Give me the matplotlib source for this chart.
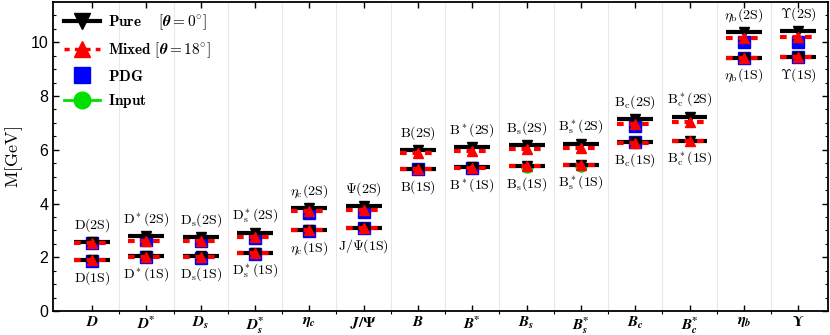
import numpy as np
import matplotlib
matplotlib.use("Agg")
import matplotlib.pyplot as plt
from matplotlib.lines import Line2D

plt.rcParams['mathtext.fontset'] = 'cm'
plt.rcParams['font.family'] = ['Liberation Sans', 'DejaVu Sans']

nan = np.nan
B = r"\boldsymbol"
categories = [r"$\boldsymbol{D}$", r"$\boldsymbol{D}^{\boldsymbol{*}}$", r"$\boldsymbol{D}_{\boldsymbol{s}}$",
              r"$\boldsymbol{D}_{\boldsymbol{s}}^{\boldsymbol{*}}$",
              r"$\boldsymbol{\eta}_{\boldsymbol{c}}$", r"$\boldsymbol{J/\Psi}$", r"$\boldsymbol{B}$",
              r"$\boldsymbol{B}^{\boldsymbol{*}}$",
              r"$\boldsymbol{B}_{\boldsymbol{s}}$", r"$\boldsymbol{B}_{\boldsymbol{s}}^{\boldsymbol{*}}$",
              r"$\boldsymbol{B}_{\boldsymbol{c}}$", r"$\boldsymbol{B}_{\boldsymbol{c}}^{\boldsymbol{*}}$",
              r"$\boldsymbol{\eta}_{\boldsymbol{b}}$", r"$\boldsymbol{\Upsilon}$"]
labels_2S = [r"$\mathrm{D(2S)}$", r"$\mathrm{D^*(2S)}$", r"$\mathrm{D_s(2S)}$", r"$\mathrm{D_s^*(2S)}$",
             r"$\eta_\mathrm{c}\mathrm{(2S)}$", r"$\mathrm{\Psi(2S)}$", r"$\mathrm{B(2S)}$", r"$\mathrm{B^*(2S)}$",
             r"$\mathrm{B_s(2S)}$", r"$\mathrm{B_s^*(2S)}$", r"$\mathrm{B_c(2S)}$", r"$\mathrm{B_c^*(2S)}$",
             r"$\eta_\mathrm{b}\mathrm{(2S)}$", r"$\mathrm{\Upsilon(2S)}$"]
labels_1S = [r"$\mathrm{D(1S)}$", r"$\mathrm{D^*(1S)}$", r"$\mathrm{D_s(1S)}$", r"$\mathrm{D_s^*(1S)}$",
             r"$\eta_\mathrm{c}\mathrm{(1S)}$", r"$\mathrm{J/\Psi(1S)}$", r"$\mathrm{B(1S)}$", r"$\mathrm{B^*(1S)}$",
             r"$\mathrm{B_s(1S)}$", r"$\mathrm{B_s^*(1S)}$", r"$\mathrm{B_c(1S)}$", r"$\mathrm{B_c^*(1S)}$",
             r"$\eta_\mathrm{b}\mathrm{(1S)}$", r"$\mathrm{\Upsilon(1S)}$"]

pure_1S = [1.90, 2.03, 2.03, 2.15, 3.02, 3.09, 5.28, 5.35, 5.40, 5.43, 6.28, 6.32, 9.43, 9.45]
pure_2S = [2.56, 2.79, 2.75, 2.90, 3.84, 3.90, 5.99, 6.10, 6.17, 6.21, 7.14, 7.21, 10.37, 10.41]
mixed_1S = [1.89, 2.02, 2.02, 2.14, 3.01, 3.08, 5.27, 5.34, 5.39, 5.42, 6.27, 6.31, 9.42, 9.44]
mixed_2S = [2.53, 2.62, 2.62, 2.74, 3.72, 3.77, 5.87, 5.95, 6.02, 6.06, 6.97, 7.02, 10.15, 10.18]
pdg_1S = [1.867, 2.009, 1.968, 2.112, 2.984, 3.097, 5.279, 5.325, nan, nan, 6.274, nan, 9.399, 9.460]
pdg_2S = [2.549, 2.627, 2.591, 2.714, 3.638, 3.686, nan, nan, nan, nan, 6.871, nan, 9.999, 10.023]
input_1S = [nan, nan, nan, nan, nan, nan, nan, nan, 5.367, 5.415, nan, nan, nan, nan]

fig = plt.figure(figsize=(8.3, 3.35), dpi=100)
ax = fig.add_axes([53/830, 24/335, 775/830, 309/335])

x = np.arange(1, len(categories) + 1)
hw = 0.33
for i, xi in enumerate(x):
    for (p, m, d, inp) in [(pure_1S[i], mixed_1S[i], pdg_1S[i], input_1S[i]),
                           (pure_2S[i], mixed_2S[i], pdg_2S[i], nan)]:
        if not np.isnan(d):
            ax.plot([xi], [d], ls='none', marker='s', ms=8, color='#0000ff', zorder=2)
        if not np.isnan(inp):
            ax.plot([xi], [inp], ls='none', marker='o', ms=8, color='#00e000', zorder=2)
        ax.plot([xi - hw, xi + hw], [p, p], color='black', lw=3, solid_capstyle='butt', zorder=3)
        ax.plot([xi], [p], marker='v', ms=7, color='black', zorder=3)
        ax.plot([xi - hw, xi + hw], [m, m], color='red', lw=3, ls=(0, (1.6, 1.4)),
                dash_capstyle='butt', zorder=4)
        ax.plot([xi], [m], marker='^', ms=7, color='red', zorder=4)
    ax.text(xi, pure_2S[i] + 0.3, labels_2S[i], ha='center', va='bottom', fontsize=10)
    ax.text(xi, min(pure_1S[i], mixed_1S[i]) - 0.32, labels_1S[i], ha='center', va='top', fontsize=10)

ax.set_xlim(0.28, 14.55)
ax.set_ylim(0, 11.5)
ax.set_xticks(x)
ax.set_xticklabels(categories, fontsize=11, math_fontfamily='stix')
ax.set_xticks(np.arange(1.5, 14.5, 1), minor=True)
ax.grid(axis='x', which='minor', color='#e8e8e8', lw=0.8)
ax.set_yticks(np.arange(0, 11, 2))
ax.set_yticks(np.arange(0, 11.5, 0.5), minor=True)
ax.tick_params(axis='y', which='both', direction='in', right=True, labelsize=11.5)
ax.tick_params(axis='x', which='major', direction='in', top=True, pad=3)
ax.tick_params(axis='x', which='minor', length=0)
ax.tick_params(which='major', length=4, width=1)
ax.tick_params(which='minor', length=2.5, width=0.8)
for s in ax.spines.values():
    s.set_linewidth(1.3)
ax.set_ylabel(r"$\mathrm{M[GeV]}$", fontsize=13, labelpad=4)

handles = [
    Line2D([], [], color='black', lw=3, marker='v', ms=11),
    Line2D([], [], color='red', lw=2.5, ls=(0, (1.5, 1.5)), marker='^', ms=11),
    Line2D([], [], color='#0000ff', ls='none', marker='s', ms=11),
    Line2D([], [], color='#00e000', lw=2, marker='o', ms=12),
]
names = [r"$\mathbf{Pure}\quad\ [\boldsymbol{\theta} = \mathbf{0^{\circ}}]$",
         r"$\mathbf{Mixed}\ [\boldsymbol{\theta} = \mathbf{18^{\circ}}]$",
         r"$\mathbf{PDG}$", r"$\mathbf{Input}$"]
ax.legend(handles, names, loc='upper left', frameon=False, fontsize=11,
          handlelength=2.4, handletextpad=0.5, labelspacing=0.55, borderaxespad=0.3,
          bbox_to_anchor=(0.0, 1.0))

fig.savefig("out.png", dpi=100)
